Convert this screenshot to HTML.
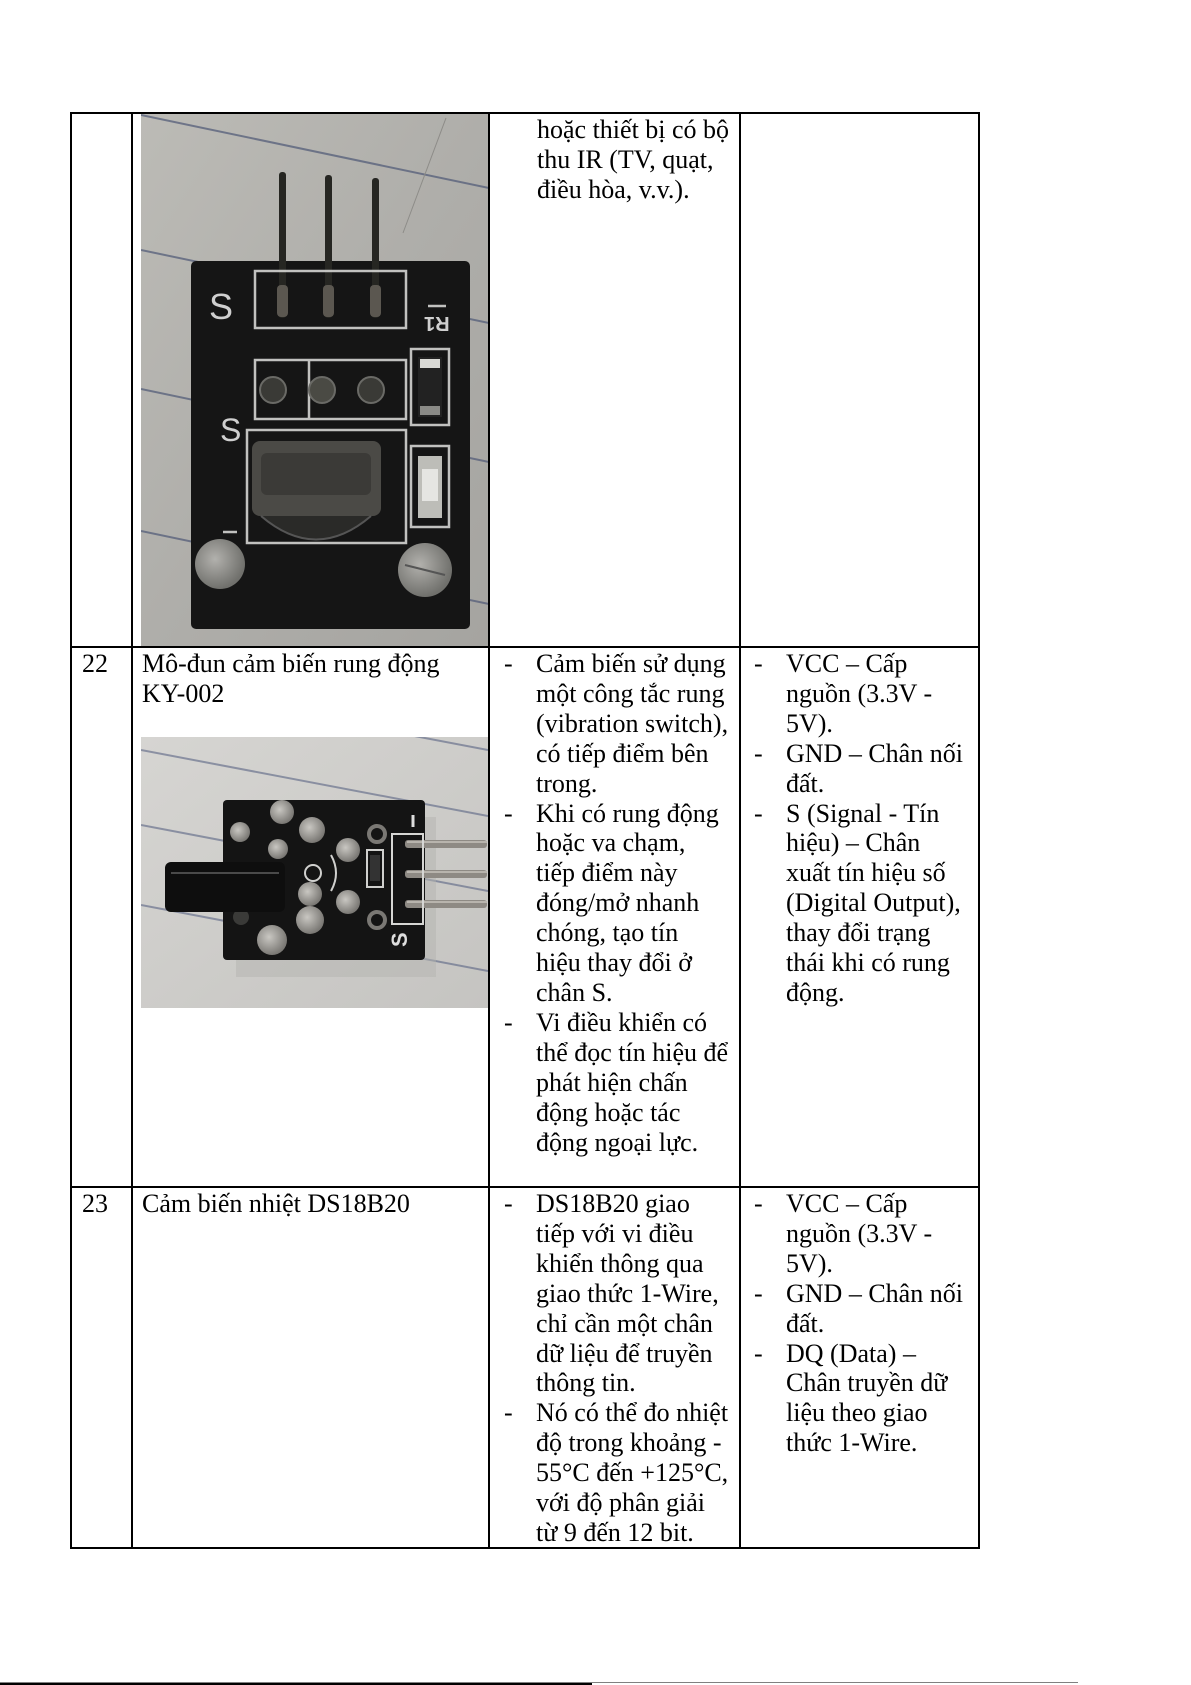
<!DOCTYPE html>
<html>
<head>
<meta charset="utf-8">
<style>
  html,body{margin:0;padding:0;background:#fff;}
  #pg{position:relative;width:1191px;height:1685px;overflow:hidden;background:#fff;}
  .h{position:absolute;height:1.5px;background:#000;}
  .v{position:absolute;width:1.5px;background:#000;}
  .t{position:absolute;font-family:"Liberation Serif","Times New Roman",serif;font-size:26px;line-height:29.9px;white-space:nowrap;color:#000;}
</style>
</head>
<body>
<div id="pg">

<!-- Image 1: IR receiver module -->
<svg width="348" height="533" style="position:absolute;left:141px;top:113px" xmlns="http://www.w3.org/2000/svg">
  <defs>
    <linearGradient id="g1" x1="0" y1="0" x2="1" y2="1">
      <stop offset="0" stop-color="#bcbbb6"/>
      <stop offset="0.5" stop-color="#afaeaa"/>
      <stop offset="1" stop-color="#a5a4a0"/>
    </linearGradient>
    <radialGradient id="sc" cx="0.4" cy="0.4" r="0.6">
      <stop offset="0" stop-color="#b2b1ad"/>
      <stop offset="1" stop-color="#70706c"/>
    </radialGradient>
  </defs>
  <rect width="348" height="533" fill="url(#g1)"/>
  <g stroke="#4e5876" stroke-width="2" opacity="0.7">
    <line x1="0" y1="2" x2="348" y2="75"/>
    <line x1="0" y1="137" x2="348" y2="210"/>
    <line x1="0" y1="276" x2="348" y2="349"/>
    <line x1="0" y1="418" x2="348" y2="491"/>
    <line x1="0" y1="540" x2="348" y2="613"/>
  </g>
  <line x1="305" y1="5" x2="262" y2="120" stroke="#8d8c88" stroke-width="1"/>
  <!-- PCB -->
  <rect x="50" y="148" width="279" height="368" rx="5" fill="#151515"/>
  <!-- pins -->
  <rect x="138" y="59" width="7" height="146" rx="3" fill="#262622"/>
  <rect x="184" y="62" width="7" height="143" rx="3" fill="#262622"/>
  <rect x="231" y="65" width="7" height="140" rx="3" fill="#262622"/>
  <g fill="#5b5750">
    <rect x="136" y="172" width="11" height="32" rx="4"/>
    <rect x="182" y="172" width="11" height="32" rx="4"/>
    <rect x="229" y="172" width="11" height="32" rx="4"/>
  </g>
  <g fill="none" stroke="#d4d4d2" stroke-width="2.5" opacity="0.9">
    <rect x="114" y="158" width="151" height="57"/>
    <rect x="114" y="247" width="151" height="59"/>
    <line x1="168" y1="247" x2="168" y2="306"/>
    <rect x="106" y="317" width="159" height="113"/>
    <rect x="270" y="236" width="38" height="76"/>
    <rect x="270" y="333" width="38" height="81"/>
    <line x1="287" y1="193" x2="305" y2="193"/>
    <line x1="82" y1="419" x2="96" y2="419"/>
  </g>
  <text x="68" y="206" font-family="Liberation Sans,sans-serif" font-size="36" fill="#cfcfcf">S</text>
  <text x="79" y="328" font-family="Liberation Sans,sans-serif" font-size="32" fill="#cfcfcf">S</text>
  <text x="0" y="0" font-family="Liberation Sans,sans-serif" font-size="20" font-weight="bold" fill="#cfcfcf" transform="translate(283,204) rotate(180)" text-anchor="end">R1</text>
  <!-- holes -->
  <circle cx="132" cy="277" r="13" fill="#3a3a36" stroke="#6a6a66" stroke-width="2"/>
  <circle cx="181" cy="277" r="13" fill="#4a4a44" stroke="#6a6a66" stroke-width="2"/>
  <circle cx="230" cy="277" r="13" fill="#3a3a36" stroke="#6a6a66" stroke-width="2"/>
  <!-- IR receiver -->
  <rect x="111" y="328" width="129" height="75" rx="8" fill="#4b4a46"/>
  <rect x="120" y="340" width="110" height="42" rx="6" fill="#3b3a37"/>
  <path d="M120 403 Q175 450 230 403" fill="#2a2a28" stroke="#555" stroke-width="2"/>
  <!-- resistor -->
  <rect x="277" y="244" width="24" height="60" fill="#222"/>
  <rect x="279" y="246" width="20" height="9" fill="#d8d8d4"/>
  <rect x="279" y="293" width="20" height="9" fill="#8a8a86"/>
  <!-- LED -->
  <rect x="277" y="343" width="24" height="62" fill="#bdbdb8"/>
  <rect x="281" y="356" width="16" height="32" fill="#e5e5e2"/>
  <!-- screws -->
  <circle cx="79" cy="451" r="25" fill="url(#sc)"/>
  <circle cx="284" cy="457" r="27" fill="url(#sc)"/>
  <line x1="264" y1="452" x2="304" y2="462" stroke="#555" stroke-width="2"/>
</svg>

<!-- Image 2: vibration module -->
<svg width="347" height="271" style="position:absolute;left:141px;top:737px" xmlns="http://www.w3.org/2000/svg">
  <defs>
    <linearGradient id="g2" x1="0" y1="0" x2="1" y2="1">
      <stop offset="0" stop-color="#d6d5d2"/>
      <stop offset="1" stop-color="#c5c4c1"/>
    </linearGradient>
    <radialGradient id="pd" cx="0.4" cy="0.4" r="0.6">
      <stop offset="0" stop-color="#c9c7c2"/>
      <stop offset="1" stop-color="#7a7874"/>
    </radialGradient>
  </defs>
  <rect width="347" height="271" fill="url(#g2)"/>
  <g stroke="#5a6484" stroke-width="2" opacity="0.6">
    <line x1="0" y1="-53" x2="347" y2="13"/>
    <line x1="0" y1="13" x2="347" y2="79"/>
    <line x1="0" y1="88" x2="347" y2="154"/>
    <line x1="0" y1="168" x2="347" y2="234"/>
  </g>
  <rect x="95" y="80" width="200" height="160" fill="#b4b3b0" opacity="0.5"/>
  <!-- PCB -->
  <rect x="82" y="63" width="202" height="160" rx="4" fill="#141414"/>
  <!-- pins -->
  <rect x="264" y="103" width="82" height="8" rx="3" fill="#8e8a84"/>
  <rect x="264" y="133" width="82" height="8" rx="3" fill="#8e8a84"/>
  <rect x="264" y="163" width="82" height="8" rx="3" fill="#8e8a84"/>
  <g fill="#b8b4ad">
    <rect x="266" y="104" width="80" height="2"/>
    <rect x="266" y="134" width="80" height="2"/>
    <rect x="266" y="164" width="80" height="2"/>
  </g>
  <rect x="251" y="97" width="31" height="90" fill="none" stroke="#d6d6d4" stroke-width="2"/>
  <line x1="272" y1="78" x2="272" y2="90" stroke="#ddd" stroke-width="3"/>
  <text x="0" y="0" font-family="Liberation Sans,sans-serif" font-size="22" font-weight="bold" fill="#ddd" transform="translate(266,210) rotate(-90)">S</text>
  <!-- pads -->
  <g>
    <circle cx="141" cy="75" r="12" fill="url(#pd)"/>
    <circle cx="171" cy="93" r="13" fill="url(#pd)"/>
    <circle cx="99" cy="95" r="10" fill="url(#pd)"/>
    <circle cx="137" cy="112" r="10" fill="url(#pd)"/>
    <circle cx="207" cy="113" r="12" fill="url(#pd)"/>
    <circle cx="236" cy="97" r="8" fill="#141414" stroke="#7a7874" stroke-width="4"/>
    <circle cx="169" cy="157" r="12" fill="url(#pd)"/>
    <circle cx="207" cy="165" r="12" fill="url(#pd)"/>
    <circle cx="169" cy="183" r="14" fill="url(#pd)"/>
    <circle cx="131" cy="203" r="15" fill="url(#pd)"/>
    <circle cx="236" cy="183" r="8" fill="#141414" stroke="#7a7874" stroke-width="4"/>
    <circle cx="100" cy="180" r="8" fill="#3a3a38"/>
  </g>
  <g fill="none" stroke="#d0d0ce" stroke-width="2">
    <circle cx="172" cy="136" r="8"/>
    <path d="M190 118 Q200 136 190 154"/>
    <rect x="226" y="113" width="16" height="37"/>
  </g>
  <rect x="229" y="118" width="10" height="26" fill="#333"/>
  <!-- cylinder -->
  <rect x="24" y="125" width="120" height="50" rx="6" fill="#0e0e0e"/>
  <line x1="30" y1="136" x2="138" y2="136" stroke="#4a4a4a" stroke-width="2"/>
</svg>

<!-- Table lines -->
<div class="h" style="left:70px;top:112px;width:909.5px;"></div>
<div class="h" style="left:70px;top:646px;width:909.5px;"></div>
<div class="h" style="left:70px;top:1186px;width:909.5px;"></div>
<div class="h" style="left:70px;top:1547px;width:909.5px;"></div>
<div class="v" style="left:70px;top:112px;height:1436.5px;"></div>
<div class="v" style="left:131px;top:112px;height:1436.5px;"></div>
<div class="v" style="left:488px;top:112px;height:1436.5px;"></div>
<div class="v" style="left:739px;top:112px;height:1436.5px;"></div>
<div class="v" style="left:978px;top:112px;height:1436.5px;"></div>

<!-- Row 1 -->
<div class="t" style="left:537px;top:115px;">hoặc thiết bị có bộ<br>thu IR (TV, quạt,<br>điều hòa, v.v.).</div>

<!-- Row 2 -->
<div class="t" style="left:82px;top:649px;">22</div>
<div class="t" style="left:142px;top:649px;">Mô-đun cảm biến rung động<br>KY-002</div>

<div class="t" style="left:504px;top:649px;">-</div>
<div class="t" style="left:504px;top:798.5px;">-</div>
<div class="t" style="left:504px;top:1007.8px;">-</div>
<div class="t" style="left:536px;top:649px;">Cảm biến sử dụng<br>một công tắc rung<br>(vibration switch),<br>có tiếp điểm bên<br>trong.<br>Khi có rung động<br>hoặc va chạm,<br>tiếp điểm này<br>đóng/mở nhanh<br>chóng, tạo tín<br>hiệu thay đổi ở<br>chân S.<br>Vi điều khiển có<br>thể đọc tín hiệu để<br>phát hiện chấn<br>động hoặc tác<br>động ngoại lực.</div>

<div class="t" style="left:754px;top:649px;">-</div>
<div class="t" style="left:754px;top:738.7px;">-</div>
<div class="t" style="left:754px;top:798.5px;">-</div>
<div class="t" style="left:786px;top:649px;">VCC – Cấp<br>nguồn (3.3V -<br>5V).<br>GND – Chân nối<br>đất.<br>S (Signal - Tín<br>hiệu) – Chân<br>xuất tín hiệu số<br>(Digital Output),<br>thay đổi trạng<br>thái khi có rung<br>động.</div>

<!-- Row 3 -->
<div class="t" style="left:82px;top:1189px;">23</div>
<div class="t" style="left:142px;top:1189px;">Cảm biến nhiệt DS18B20</div>

<div class="t" style="left:504px;top:1189px;">-</div>
<div class="t" style="left:504px;top:1398.3px;">-</div>
<div class="t" style="left:536px;top:1189px;">DS18B20 giao<br>tiếp với vi điều<br>khiển thông qua<br>giao thức 1-Wire,<br>chỉ cần một chân<br>dữ liệu để truyền<br>thông tin.<br>Nó có thể đo nhiệt<br>độ trong khoảng -<br>55°C đến +125°C,<br>với độ phân giải<br>từ 9 đến 12 bit.</div>

<div class="t" style="left:754px;top:1189px;">-</div>
<div class="t" style="left:754px;top:1278.7px;">-</div>
<div class="t" style="left:754px;top:1338.5px;">-</div>
<div class="t" style="left:786px;top:1189px;">VCC – Cấp<br>nguồn (3.3V -<br>5V).<br>GND – Chân nối<br>đất.<br>DQ (Data) –<br>Chân truyền dữ<br>liệu theo giao<br>thức 1-Wire.</div>

<!-- bottom page line -->
<div style="position:absolute;left:0;top:1682px;width:1078px;height:1px;background:#808080;"></div>
<div style="position:absolute;left:0;top:1683px;width:592px;height:2px;background:#000;"></div>

</div>
</body>
</html>
